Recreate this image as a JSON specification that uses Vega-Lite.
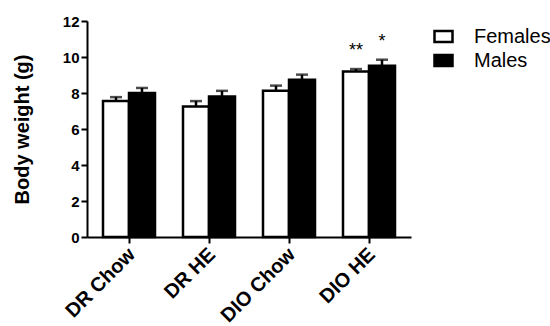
{
  "$schema": "https://vega.github.io/schema/vega-lite/v6.json",
  "width": 324,
  "height": 216,
  "padding": {"left": 12, "top": 14, "right": 0, "bottom": 0},
  "background": "white",
  "config": {
    "view": {"stroke": null},
    "font": "Liberation Sans",
    "axis": {"grid": false, "domainColor": "black", "domainWidth": 2, "tickColor": "black", "tickWidth": 2, "tickSize": 6, "labelColor": "black", "labelFont": "Liberation Sans", "labelFontWeight": "bold", "labelFontSize": 15, "titleFont": "Liberation Sans", "titleColor": "black"}
  },
  "data": {
    "values": [
      {"group": "DR Chow", "sex": "Females", "mean": 7.55, "upper": 7.77, "sig": ""},
      {"group": "DR Chow", "sex": "Males", "mean": 8.0, "upper": 8.28, "sig": ""},
      {"group": "DR HE", "sex": "Females", "mean": 7.25, "upper": 7.55, "sig": ""},
      {"group": "DR HE", "sex": "Males", "mean": 7.8, "upper": 8.12, "sig": ""},
      {"group": "DIO Chow", "sex": "Females", "mean": 8.13, "upper": 8.41, "sig": ""},
      {"group": "DIO Chow", "sex": "Males", "mean": 8.74, "upper": 9.02, "sig": ""},
      {"group": "DIO HE", "sex": "Females", "mean": 9.2, "upper": 9.33, "sig": "**"},
      {"group": "DIO HE", "sex": "Males", "mean": 9.52, "upper": 9.85, "sig": "*"}
    ]
  },
  "encoding": {
    "x": {"field": "group", "type": "nominal", "sort": ["DR Chow", "DR HE", "DIO Chow", "DIO HE"],
      "scale": {"paddingInner": 0.35, "paddingOuter": 0.2},
      "axis": {"title": null, "labelAngle": -45, "labelAlign": "right", "labelBaseline": "top", "labelFontSize": 20, "labelPadding": 1, "labelOffset": -4}},
    "xOffset": {"field": "sex", "type": "nominal", "sort": ["Females", "Males"], "scale": {"paddingInner": 0, "paddingOuter": 0}}
  },
  "layer": [
    {
      "mark": {"type": "rule", "color": "black", "strokeWidth": 2.5},
      "encoding": {
        "y": {"field": "mean", "type": "quantitative",
          "scale": {"domain": [0, 12]},
          "axis": {"title": "Body weight (g)", "titleFontSize": 20, "titleFontWeight": "bold", "values": [0, 2, 4, 6, 8, 10, 12], "tickCount": 20, "format": "d", "labelPadding": 2, "titlePadding": 30}},
        "y2": {"field": "upper"}
      }
    },
    {
      "mark": {"type": "tick", "color": "black", "thickness": 2.5, "size": 12},
      "encoding": {
        "y": {"field": "upper", "type": "quantitative"}
      }
    },
    {
      "mark": {"type": "bar", "stroke": "black", "strokeWidth": 2.5},
      "encoding": {
        "y": {"field": "mean", "type": "quantitative"},
        "fill": {"field": "sex", "type": "nominal",
          "scale": {"domain": ["Females", "Males"], "range": ["white", "black"]},
          "legend": {"title": null, "orient": "none", "legendX": 346, "legendY": 5, "labelFontSize": 20, "labelFont": "Liberation Sans", "labelColor": "black", "symbolType": "M-1,-0.62L1,-0.62L1,0.62L-1,0.62Z", "symbolSize": 324, "symbolStrokeColor": "black", "symbolStrokeWidth": 2.5, "symbolOpacity": 1, "rowPadding": 1, "labelOffset": 20}}
      }
    },
    {
      "mark": {"type": "text", "fontSize": 18, "baseline": "bottom", "dy": -9, "color": "black"},
      "encoding": {
        "y": {"field": "upper", "type": "quantitative"},
        "text": {"field": "sig"}
      }
    }
  ]
}
